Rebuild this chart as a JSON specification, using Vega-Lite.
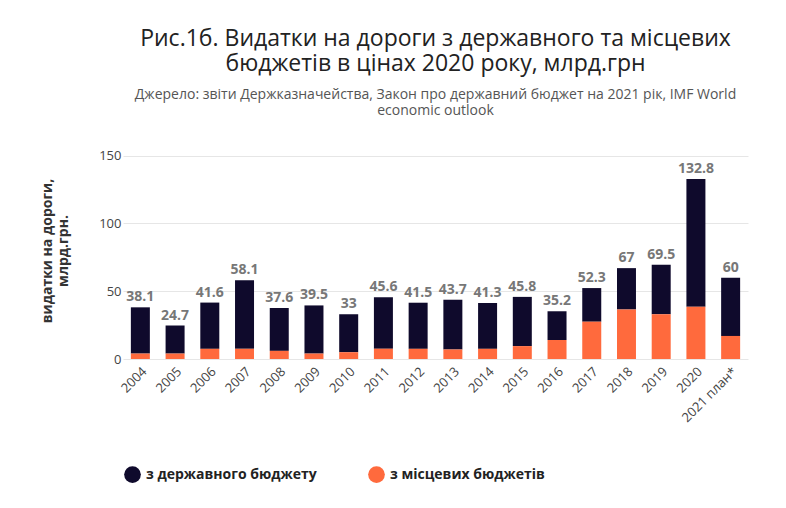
{
  "$schema": "https://vega.github.io/schema/vega-lite/v6.json",
  "width": 625,
  "height": 217,
  "padding": {"left": 40, "top": 28, "right": 20, "bottom": 10},
  "title": {
    "text": ["Рис.1б. Видатки на дороги з державного та місцевих", "бюджетів в цінах 2020 року, млрд.грн"],
    "subtitle": ["Джерело: звіти Держказначейства, Закон про державний бюджет на 2021 рік, IMF World", "economic outlook"],
    "font": "Open Sans",
    "fontSize": 23,
    "fontWeight": "normal",
    "color": "#222",
    "subtitleFont": "Open Sans",
    "subtitleFontSize": 14,
    "subtitleColor": "#555",
    "subtitlePadding": 12,
    "offset": 24,
    "anchor": "middle",
    "frame": "group"
  },
  "config": {
    "view": {"stroke": "transparent"},
    "font": "Open Sans"
  },
  "data": {
    "values": [
      {"year": "2004", "total": 38.1, "local": 4},
      {"year": "2005", "total": 24.7, "local": 4},
      {"year": "2006", "total": 41.6, "local": 7.5},
      {"year": "2007", "total": 58.1, "local": 7.5},
      {"year": "2008", "total": 37.6, "local": 6},
      {"year": "2009", "total": 39.5, "local": 4},
      {"year": "2010", "total": 33, "local": 5},
      {"year": "2011", "total": 45.6, "local": 7.5},
      {"year": "2012", "total": 41.5, "local": 7.5},
      {"year": "2013", "total": 43.7, "local": 7},
      {"year": "2014", "total": 41.3, "local": 7.5},
      {"year": "2015", "total": 45.8, "local": 9.5},
      {"year": "2016", "total": 35.2, "local": 14},
      {"year": "2017", "total": 52.3, "local": 27.5},
      {"year": "2018", "total": 67, "local": 36.5},
      {"year": "2019", "total": 69.5, "local": 33},
      {"year": "2020", "total": 132.8, "local": 38.5},
      {"year": "2021 план*", "total": 60, "local": 17}
    ]
  },
  "encoding": {
    "x": {
      "field": "year",
      "type": "nominal",
      "title": null,
      "axis": {"labelAngle": -45, "labelFontSize": 13, "labelColor": "#444", "domain": false, "ticks": false, "labelPadding": 6}
    }
  },
  "layer": [
    {
      "transform": [
        {"calculate": "datum.total - datum.local", "as": "з державного бюджету"},
        {"calculate": "datum.local", "as": "з місцевих бюджетів"},
        {"fold": ["з державного бюджету", "з місцевих бюджетів"], "as": ["src", "val"]},
        {"calculate": "datum.src == 'з місцевих бюджетів' ? 0 : 1", "as": "ord"}
      ],
      "mark": {"type": "bar", "width": 19},
      "encoding": {
        "y": {
          "field": "val",
          "type": "quantitative",
          "stack": "zero",
          "title": ["видатки на дороги,", "млрд.грн."],
          "scale": {"domain": [0, 150]},
          "axis": {"values": [0, 50, 100, 150], "domain": false, "ticks": false, "gridColor": "#e6e6e6", "labelFontSize": 13, "labelColor": "#444", "titleFontSize": 14, "titleFontWeight": "bold", "titleColor": "#333", "titlePadding": 28}
        },
        "order": {"field": "ord"},
        "color": {
          "field": "src",
          "type": "nominal",
          "scale": {"domain": ["з державного бюджету", "з місцевих бюджетів"], "range": ["#0f0a2c", "#ff6a3d"]},
          "legend": {"orient": "bottom", "title": null, "symbolType": "circle", "symbolSize": 280, "labelFontSize": 14, "labelFontWeight": "bold", "labelColor": "#222", "labelLimit": 300, "columnPadding": 50, "offset": 40}
        }
      }
    },
    {
      "mark": {"type": "text", "dy": -10, "fontSize": 14, "fontWeight": "bold", "color": "#777"},
      "encoding": {
        "y": {"field": "total", "type": "quantitative"},
        "text": {"field": "total", "type": "quantitative"}
      }
    }
  ]
}
